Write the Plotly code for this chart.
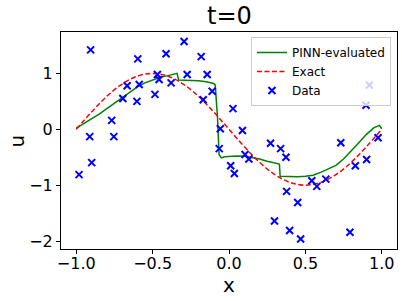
import plotly.graph_objects as go

# Data points (x, u)
data_x = [-0.982, -0.906, -0.912, -0.899, -0.768, -0.754, -0.695, -0.667, -0.603, -0.597,
          -0.588, -0.485, -0.469, -0.458, -0.412, -0.379, -0.294, -0.274, -0.182, -0.169,
          -0.143, -0.110, -0.057, -0.064, 0.011, 0.026, 0.035, 0.088, 0.105, 0.130,
          0.272, 0.298, 0.338, 0.373, 0.377, 0.397, 0.450, 0.469, 0.542, 0.575,
          0.634, 0.732, 0.792, 0.827, 0.897, 0.901, 0.919, 0.976]
data_u = [-0.81, 1.42, -0.13, -0.595, 0.16, -0.13, 0.55, 0.78, 0.50, 1.26,
          0.80, 0.625, 0.98, 0.89, 1.35, 0.83, 1.57, 0.98, 1.30, 0.53,
          0.98, 0.68, 0.01, -0.345, -0.65, 0.37, -0.79, -0.02, -0.45, -0.53,
          -0.25, -1.64, -0.345, -0.50, -1.11, -1.81, -1.31, -1.96, -0.92, -1.02,
          -0.89, -0.24, -1.84, -0.65, 0.43, -0.54, 0.79, -0.15]

# Exact solution
exact_x = [-1.0, -0.9, -0.8, -0.7, -0.6, -0.5, -0.4, -0.3, -0.2, -0.1, 0.0,
           0.1, 0.2, 0.3, 0.4, 0.5, 0.6, 0.7, 0.8, 0.9, 1.0]
exact_u = [0.0, 0.31, 0.59, 0.81, 0.95, 1.0, 0.95, 0.81, 0.59, 0.31, 0.0,
           -0.31, -0.59, -0.81, -0.95, -1.0, -0.95, -0.81, -0.59, -0.31, 0.0]

# PINN-evaluated curve
pinn_x = [-1.0, -0.95, -0.9, -0.85, -0.8, -0.75, -0.7, -0.65, -0.6, -0.55, -0.5, -0.45,
          -0.4, -0.35, -0.34, -0.33, -0.28, -0.2, -0.15, -0.1, -0.09, -0.075, -0.065,
          -0.05, -0.03, 0.0, 0.05, 0.1, 0.15, 0.2, 0.25, 0.3, 0.33, 0.335, 0.4, 0.45,
          0.5, 0.55, 0.6, 0.65, 0.7, 0.75, 0.8, 0.85, 0.9, 0.95, 0.985, 1.0]
pinn_u = [0.02, 0.10, 0.18, 0.27, 0.37, 0.47, 0.57, 0.67, 0.76, 0.83, 0.88, 0.93,
          0.96, 0.99, 1.0, 0.88, 0.88, 0.87, 0.85, 0.82, 0.79, 0.20, -0.45,
          -0.51, -0.49, -0.48, -0.475, -0.48, -0.50, -0.53, -0.57, -0.60, -0.62, -0.84, -0.85, -0.85,
          -0.84, -0.82, -0.77, -0.71, -0.645, -0.53, -0.39, -0.24, -0.09, 0.03, 0.07, 0.01]

x_ticks = [-1.0, -0.5, 0.0, 0.5, 1.0]
y_ticks = [-2, -1, 0, 1]

FONT = "DejaVu Sans"

fig = go.Figure()
fig.add_trace(go.Scatter(x=pinn_x, y=pinn_u, mode="lines", name="PINN-evaluated",
                         line=dict(color="green", width=1.5)))
fig.add_trace(go.Scatter(x=exact_x, y=exact_u, mode="lines", name="Exact",
                         line=dict(color="red", width=1.5, dash="5px,2.5px", shape="spline")))
fig.add_trace(go.Scatter(x=data_x, y=data_u, mode="markers", name="Data",
                         marker=dict(symbol="x-thin", size=7, color="blue",
                                     line=dict(color="blue", width=2))))

fig.update_layout(
    width=402, height=301,
    margin=dict(l=61, r=5, t=32, b=52, autoexpand=False),
    paper_bgcolor="white", plot_bgcolor="white",
    font=dict(family=FONT, color="black"),
    legend=dict(x=0.982, y=0.977, xanchor="right", yanchor="top",
                bgcolor="rgba(255,255,255,0.8)", bordercolor="#cccccc", borderwidth=1,
                font=dict(size=12, family=FONT, color="black")),
    showlegend=True,
    annotations=[
        dict(text="t=0", x=0.5, y=1, xref="paper", yref="paper", xanchor="center",
             yanchor="bottom", yshift=0, showarrow=False,
             font=dict(size=24, family=FONT, color="black")),
        dict(text="x", x=0.5, y=-0.1636, xref="paper", yref="paper", xanchor="center",
             yanchor="middle", showarrow=False, font=dict(size=20, family=FONT, color="black")),
        dict(text="u", x=-0.131, y=0.5, xref="paper", yref="paper", xanchor="center",
             yanchor="middle", textangle=-90, showarrow=False,
             font=dict(size=20, family=FONT, color="black")),
    ],
)
fig.update_xaxes(range=[-1.1, 1.1], tickvals=x_ticks, tickformat=".1f", automargin=False,
                 showgrid=False, zeroline=False, showline=True, mirror=True,
                 linecolor="black", linewidth=1, ticks="outside", ticklen=4,
                 tickcolor="black", tickfont=dict(size=16), ticklabelstandoff=-4)
fig.update_yaxes(range=[-2.14, 1.74], tickvals=y_ticks, automargin=False,
                 showgrid=False, zeroline=False, showline=True, mirror=True,
                 linecolor="black", linewidth=1, ticks="outside", ticklen=4,
                 tickcolor="black", tickfont=dict(size=16))

fig.write_html("out.html", config={"displayModeBar": False},
               post_script="document.body.style.margin='0';document.body.style.overflow='hidden';")
